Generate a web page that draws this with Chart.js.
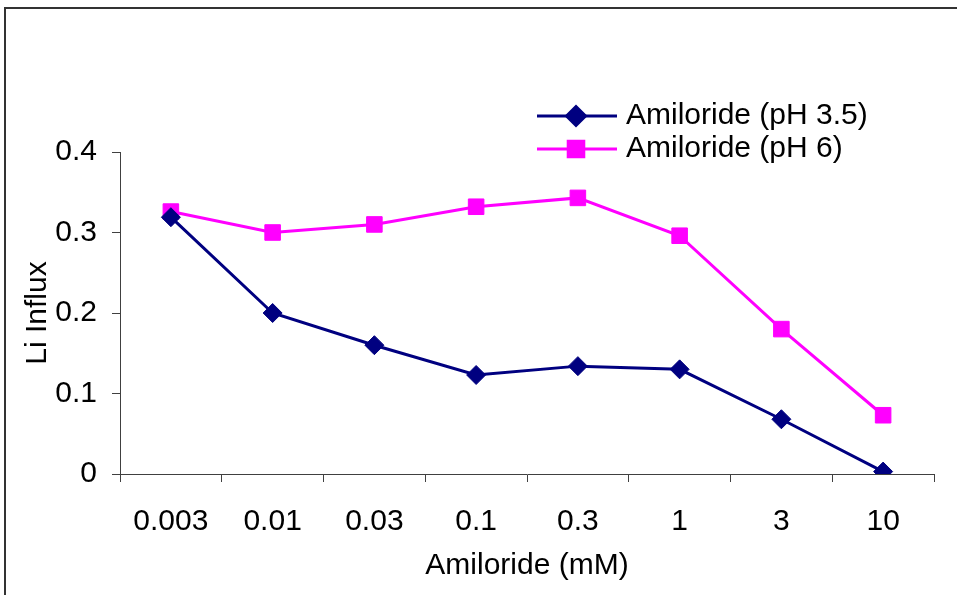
<!DOCTYPE html>
<html>
<head>
<meta charset="utf-8">
<script src="https://cdn.jsdelivr.net/npm/chart.js@4/dist/chart.umd.min.js"></script>
<style>
    body { margin: 0; background: #fff; overflow: hidden; }
    #wrap { position: relative; width: 957px; height: 595px; }
    #frame { position: absolute; left: 4px; top: 7px; width: 1000px; height: 1000px; border: 2px solid #333; }
    #liChart { position: absolute; left: 0; top: 0; }
</style>
</head>
<body>
<div id="wrap">
    <div id="frame"></div>
    <canvas id="liChart" width="957" height="595"></canvas>
</div>
<script>
// Data
const concentrations = ["0.003", "0.01", "0.03", "0.1", "0.3", "1", "3", "10"];
const influxPh35 = [0.319, 0.200, 0.160, 0.123, 0.134, 0.130, 0.068, 0.003];
const influxPh6 = [0.326, 0.300, 0.310, 0.332, 0.343, 0.296, 0.180, 0.073];
const yTicks = [0, 0.1, 0.2, 0.3, 0.4];

const fontFamily = "'Liberation Sans', Arial, sans-serif";
const fontSize = 30;
const axisColor = "#404040";

// ::::: legend drawn as two stacked rows top right :::::
const sideLegend = {
    id: "sideLegend",
    afterDraw(chart) {
        const ctx = chart.ctx;
        ctx.save();
        chart.data.datasets.forEach((ds, i) => {
            const y = 116 + i * 33;
            ctx.strokeStyle = ds.borderColor;
            ctx.lineWidth = 3;
            ctx.beginPath();
            ctx.moveTo(537, y);
            ctx.lineTo(617, y);
            ctx.stroke();
            Chart.helpers.drawPoint(ctx, {
                pointStyle: ds.pointStyle,
                radius: ds.pointRadius,
                borderWidth: 1
            }, 576, y);
            ctx.fillStyle = ds.pointBackgroundColor;
            ctx.fill();
            ctx.fillStyle = "#000";
            ctx.font = fontSize + "px " + fontFamily;
            ctx.textAlign = "left";
            ctx.textBaseline = "middle";
            ctx.fillText(ds.label, 626, y);
        });
        ctx.restore();
    }
};

var ctx = document.getElementById("liChart");
var liChart = new Chart(ctx, {
    type: "line",
    data: {
        labels: concentrations,
        datasets: [{
            label: "Amiloride (pH 3.5)",
            data: influxPh35,
            borderColor: "#000080",
            backgroundColor: "#000080",
            pointBackgroundColor: "#000080",
            pointBorderColor: "#000080",
            borderWidth: 3,
            pointStyle: "rectRot",
            pointRadius: 9.5,
            pointBorderWidth: 1,
            tension: 0
        }, {
            label: "Amiloride (pH 6)",
            data: influxPh6,
            borderColor: "#FF00FF",
            backgroundColor: "#FF00FF",
            pointBackgroundColor: "#FF00FF",
            pointBorderColor: "#FF00FF",
            borderWidth: 3,
            pointStyle: "rect",
            pointRadius: 11,
            pointBorderWidth: 1,
            tension: 0
        }]
    },
    plugins: [sideLegend],
    options: {
        responsive: false,
        animation: false,
        layout: {
            padding: { left: 0, top: 152, right: 23, bottom: 0 }
        },
        scales: {
            x: {
                offset: true,
                grid: {
                    offset: true,
                    drawOnChartArea: false,
                    drawTicks: true,
                    tickLength: 8,
                    color: axisColor
                },
                border: { color: axisColor, width: 1 },
                ticks: {
                    color: "#000",
                    padding: 22,
                    maxRotation: 0,
                    font: { family: fontFamily, size: fontSize }
                },
                title: {
                    display: true,
                    text: "Amiloride (mM)",
                    color: "#000",
                    padding: { top: 0, bottom: 11 },
                    font: { family: fontFamily, size: fontSize }
                },
                afterFit: (scale) => { scale.height = 121; }
            },
            y: {
                min: 0,
                max: 0.4,
                afterBuildTicks: (scale) => {
                    scale.ticks = yTicks.map(v => ({ value: v }));
                },
                grid: {
                    drawOnChartArea: false,
                    drawTicks: true,
                    tickLength: 8,
                    color: axisColor
                },
                border: { color: axisColor, width: 1 },
                ticks: {
                    color: "#000",
                    padding: 15,
                    font: { family: fontFamily, size: fontSize },
                    callback: (v) => String(Math.round(v * 10) / 10)
                },
                title: {
                    display: true,
                    text: "Li Influx",
                    color: "#000",
                    padding: { top: 20, bottom: 0 },
                    font: { family: fontFamily, size: fontSize }
                },
                afterFit: (scale) => { scale.width = 120; }
            }
        },
        plugins: {
            legend: { display: false },
            tooltip: { enabled: false }
        }
    }
});
</script>
</body>
</html>
